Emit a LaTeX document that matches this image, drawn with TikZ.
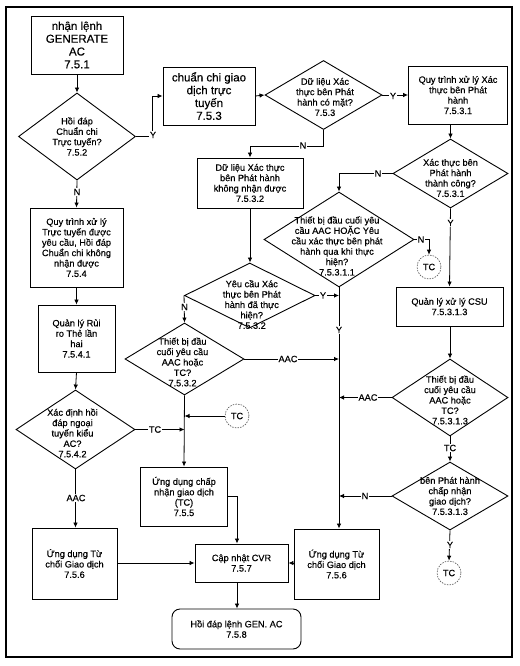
\documentclass[tikz,border=0pt]{standalone}
\usepackage{fontspec}
\setmainfont{Liberation Sans}[UprightFeatures={FakeBold=0.35}]
\usetikzlibrary{shapes.geometric,arrows.meta,calc}
\begin{document}
\begin{tikzpicture}[x=1pt,y=-1pt,
  txt/.style={font=\fontsize{9.2}{10.4}\selectfont, align=center},
  big/.style={font=\fontsize{11.5}{12.8}\selectfont, align=center},
  box/.style={draw, line width=0.9pt, inner sep=0pt, txt},
  dia/.style={diamond, draw, line width=0.9pt, inner sep=0pt},
  arr/.style={line width=0.8pt, -{Latex[length=5pt,width=4.5pt]}},
  ln/.style={line width=0.8pt},
  lbl/.style={fill=white, inner sep=1pt, txt},
  tc/.style={circle, draw=black!70, line width=0.6pt, dash pattern=on 1.5pt off 1.2pt, minimum size=24pt, inner sep=0pt, txt}
]
\useasboundingbox (0,0) rectangle (519,666);
\draw[line width=1.2pt] (6,7) rectangle (512,657);

% boxes
\node[box, big, minimum width=92pt, minimum height=58pt] (b751) at (77,45) {nhận lệnh\\GENERATE\\AC\\7.5.1};
\node[box, big, minimum width=92pt, minimum height=58pt] (b753) at (209,96) {chuẩn chi giao\\dịch trực\\tuyến\\7.5.3};
\node[box, minimum width=99pt, minimum height=58pt] (b7531) at (458,95) {Quy trình xử lý Xác\\thực bên Phát\\hành\\7.5.3.1};
\node[box, minimum width=106pt, minimum height=50pt] (b7532) at (250,183) {Dữ liệu Xác thực\\bên Phát hành\\không nhận được\\7.5.3.2};
\node[box, minimum width=93pt, minimum height=79pt] (b754) at (76.5,247.5) {Quy trình xử lý\\Trực tuyến được\\yêu cầu, Hồi đáp\\Chuẩn chi không\\nhận được\\7.5.4};
\node[box, minimum width=77pt, minimum height=67pt] (b7541) at (76.5,338.5) {Quản lý Rủi\\ro Thẻ lần\\hai\\7.5.4.1};
\node[box, minimum width=85pt, minimum height=71pt] (b756L) at (74.5,563.5) {Ứng dụng Từ\\chối Giao dịch\\7.5.6};
\node[box, minimum width=87pt, minimum height=59pt] (b755) at (184,496.5) {Ứng dụng chấp\\nhận giao dịch\\(TC)\\7.5.5};
\node[box, minimum width=93pt, minimum height=38pt] (bCVR) at (241.5,563) {Cập nhật CVR\\7.5.7};
\node[box, minimum width=85pt, minimum height=70pt] (b756R) at (336.5,564) {Ứng dụng Từ\\chối Giao dịch\\7.5.6};
\node[box, rounded corners=8pt, minimum width=129pt, minimum height=40pt] (bFin) at (236.5,629) {Hồi đáp lệnh GEN. AC\\7.5.8};
\node[box, minimum width=107pt, minimum height=39pt] (bCSU) at (449.5,306.5) {Quản lý xử lý CSU\\7.5.3.1.3};

% diamonds
\node[dia, minimum width=117pt, minimum height=87pt, label={[txt]center:{Hồi đáp\\Chuẩn chi\\Trực tuyến?\\7.5.2}}] (d752) at (77,136.5) {};
\node[dia, minimum width=117pt, minimum height=69pt, label={[txt,xshift=1.5pt,yshift=-2pt]center:{Dữ liệu Xác\\thực bên Phát\\hành có mặt?\\7.5.3}}] (d753) at (323.5,95) {};
\node[dia, minimum width=115pt, minimum height=69pt, label={[txt,yshift=-4.5pt]center:{Xác thực bên\\Phát hành\\thành công?\\7.5.3.1}}] (d7531) at (450.5,173.5) {};
\node[dia, minimum width=150pt, minimum height=95pt, label={[txt,xshift=-2pt,yshift=-6.5pt]center:{Thiết bị đầu cuối yêu\\cầu AAC HOẶC Yêu\\cầu xác thực bên phát\\hành qua khi thực\\hiện?\\7.5.3.1.1}}] (d75311) at (339,239.5) {};
\node[dia, minimum width=130.5pt, minimum height=65pt, label={[txt,xshift=2pt,yshift=-9pt]center:{Yêu cầu Xác\\thực bên Phát\\hành đã thực\\hiện?\\7.5.3.2}}] (dyc) at (249.75,295.5) {};
\node[dia, minimum width=119pt, minimum height=72pt, label={[txt,xshift=-2pt,yshift=-3pt]center:{Thiết bị đầu\\cuối yêu cầu\\AAC hoặc\\TC?\\7.5.3.2}}] (d7532b) at (184.5,359) {};
\node[dia, minimum width=119pt, minimum height=79pt, label={[txt,xshift=-3pt,yshift=-3.5pt]center:{Xác định hồi\\đáp ngoại\\tuyến kiểu\\AC?\\7.5.4.2}}] (d7542) at (75.5,429.5) {};
\node[dia, minimum width=116pt, minimum height=77pt, label={[txt,yshift=-2.5pt]center:{Thiết bị đầu\\cuối yêu cầu\\AAC hoặc\\TC?\\7.5.3.1.3}}] (d75313a) at (450,397.5) {};
\node[dia, minimum width=116pt, minimum height=68pt, label={[txt]center:{bên Phát hành\\chấp nhận\\giao dịch?\\7.5.3.1.3}}] (d75313b) at (450,496) {};

% TC circles
\node[tc] (tc1) at (429,267) {TC};
\node[tc] (tc2) at (237,416) {TC};
\node[tc] (tc3) at (449,573) {TC};

% coordinates
\coordinate (c1) at (152,136.5);
\coordinate (tY) at (339,295.5);
\coordinate (tA1) at (339,359);
\coordinate (tA2) at (339,397.5);
\coordinate (tN) at (339,496);
\coordinate (lc) at (184.5,416);
\coordinate (lt) at (184.5,429.5);

% connectors
\draw[arr] (b751.south) -- (d752.north);
\draw[arr] (d752.east) -- (c1) |- (b753.west);
\draw[arr] (d752.south) -- (b754.north);
\draw[arr] (b753.east) -- (d753.west);
\draw[arr] (d753.east) -- (b7531.west);
\draw[arr] (d753.south) -- ++(0,16) -| (b7532.north);
\draw[arr] (d7531.north |- b7531.south) -- (d7531.north);
\draw[arr] (d7531.west) -| (d75311.north);
\draw[arr] (d7531.south) -- (bCSU.south |- bCSU.north);
\draw[arr] (d75311.east) -| (tc1.north);
\draw[arr] (d75311.south) -- (d75311.south |- b756R.north);
\draw[arr] (b7532.south) -- (b7532.south |- dyc.north);
\draw[arr] (dyc.east) -- (tY);
\draw[arr] (dyc.west) -- (d7532b.north);
\draw[arr] (d7532b.east) -- (tA1);
\draw[arr] (d7532b.south) -- (b755.north);
\draw[arr] (tc2.west) -- (lc);
\draw[arr] (d7542.east) -- (lt);
\draw[arr] (b754.south) -- (b7541.north);
\draw[arr] (b7541.south) -- (d7542.north);
\draw[arr] (d7542.south) -- (d7542.south |- b756L.north);
\draw[arr] (b755.east) -| ([xshift=-4.5pt]bCVR.north);
\draw[arr] (b756L.east |- bCVR.west) -- (bCVR.west);
\draw[arr] (b756R.west |- bCVR.east) -- (bCVR.east);
\draw[arr] ([xshift=-4.5pt]bCVR.south) -- ([xshift=-4.5pt]bCVR.south |- bFin.north);
\draw[arr] (bCSU.south -| d75313a.north) -- (d75313a.north);
\draw[arr] (d75313a.west) -- (tA2);
\draw[arr] (d75313a.south) -- (d75313b.north);
\draw[arr] (d75313b.west) -- (tN);
\draw[arr] (d75313b.south) -- (tc3.north);

% labels on connectors
\node[lbl] (lY1) at (153,135) {Y};
\node[lbl] (lN1) at (77,192) {N};
\node[lbl] (lY2) at (393,96) {Y};
\node[lbl] (lN2) at (303,145.5) {N};
\node[lbl] (lN3) at (378,173.5) {N};
\node[lbl] (lY3) at (450.5,223) {Y};
\node[lbl] (lN4) at (421,239.5) {N};
\node[lbl] (lY4) at (323,295.5) {Y};
\node[lbl] (lY5) at (339,330) {Y};
\node[lbl] (lN5) at (184.5,307) {N};
\node[lbl] (lA1) at (288,359) {AAC};
\node[lbl] (lT1) at (155,429.5) {TC};
\node[lbl] (lA2) at (76,498) {AAC};
\node[lbl] (lA3) at (368,397.5) {AAC};
\node[lbl] (lT2) at (450,448) {TC};
\node[lbl] (lN6) at (365,496) {N};
\node[lbl] (lY6) at (450,545) {Y};
\end{tikzpicture}
\end{document}
